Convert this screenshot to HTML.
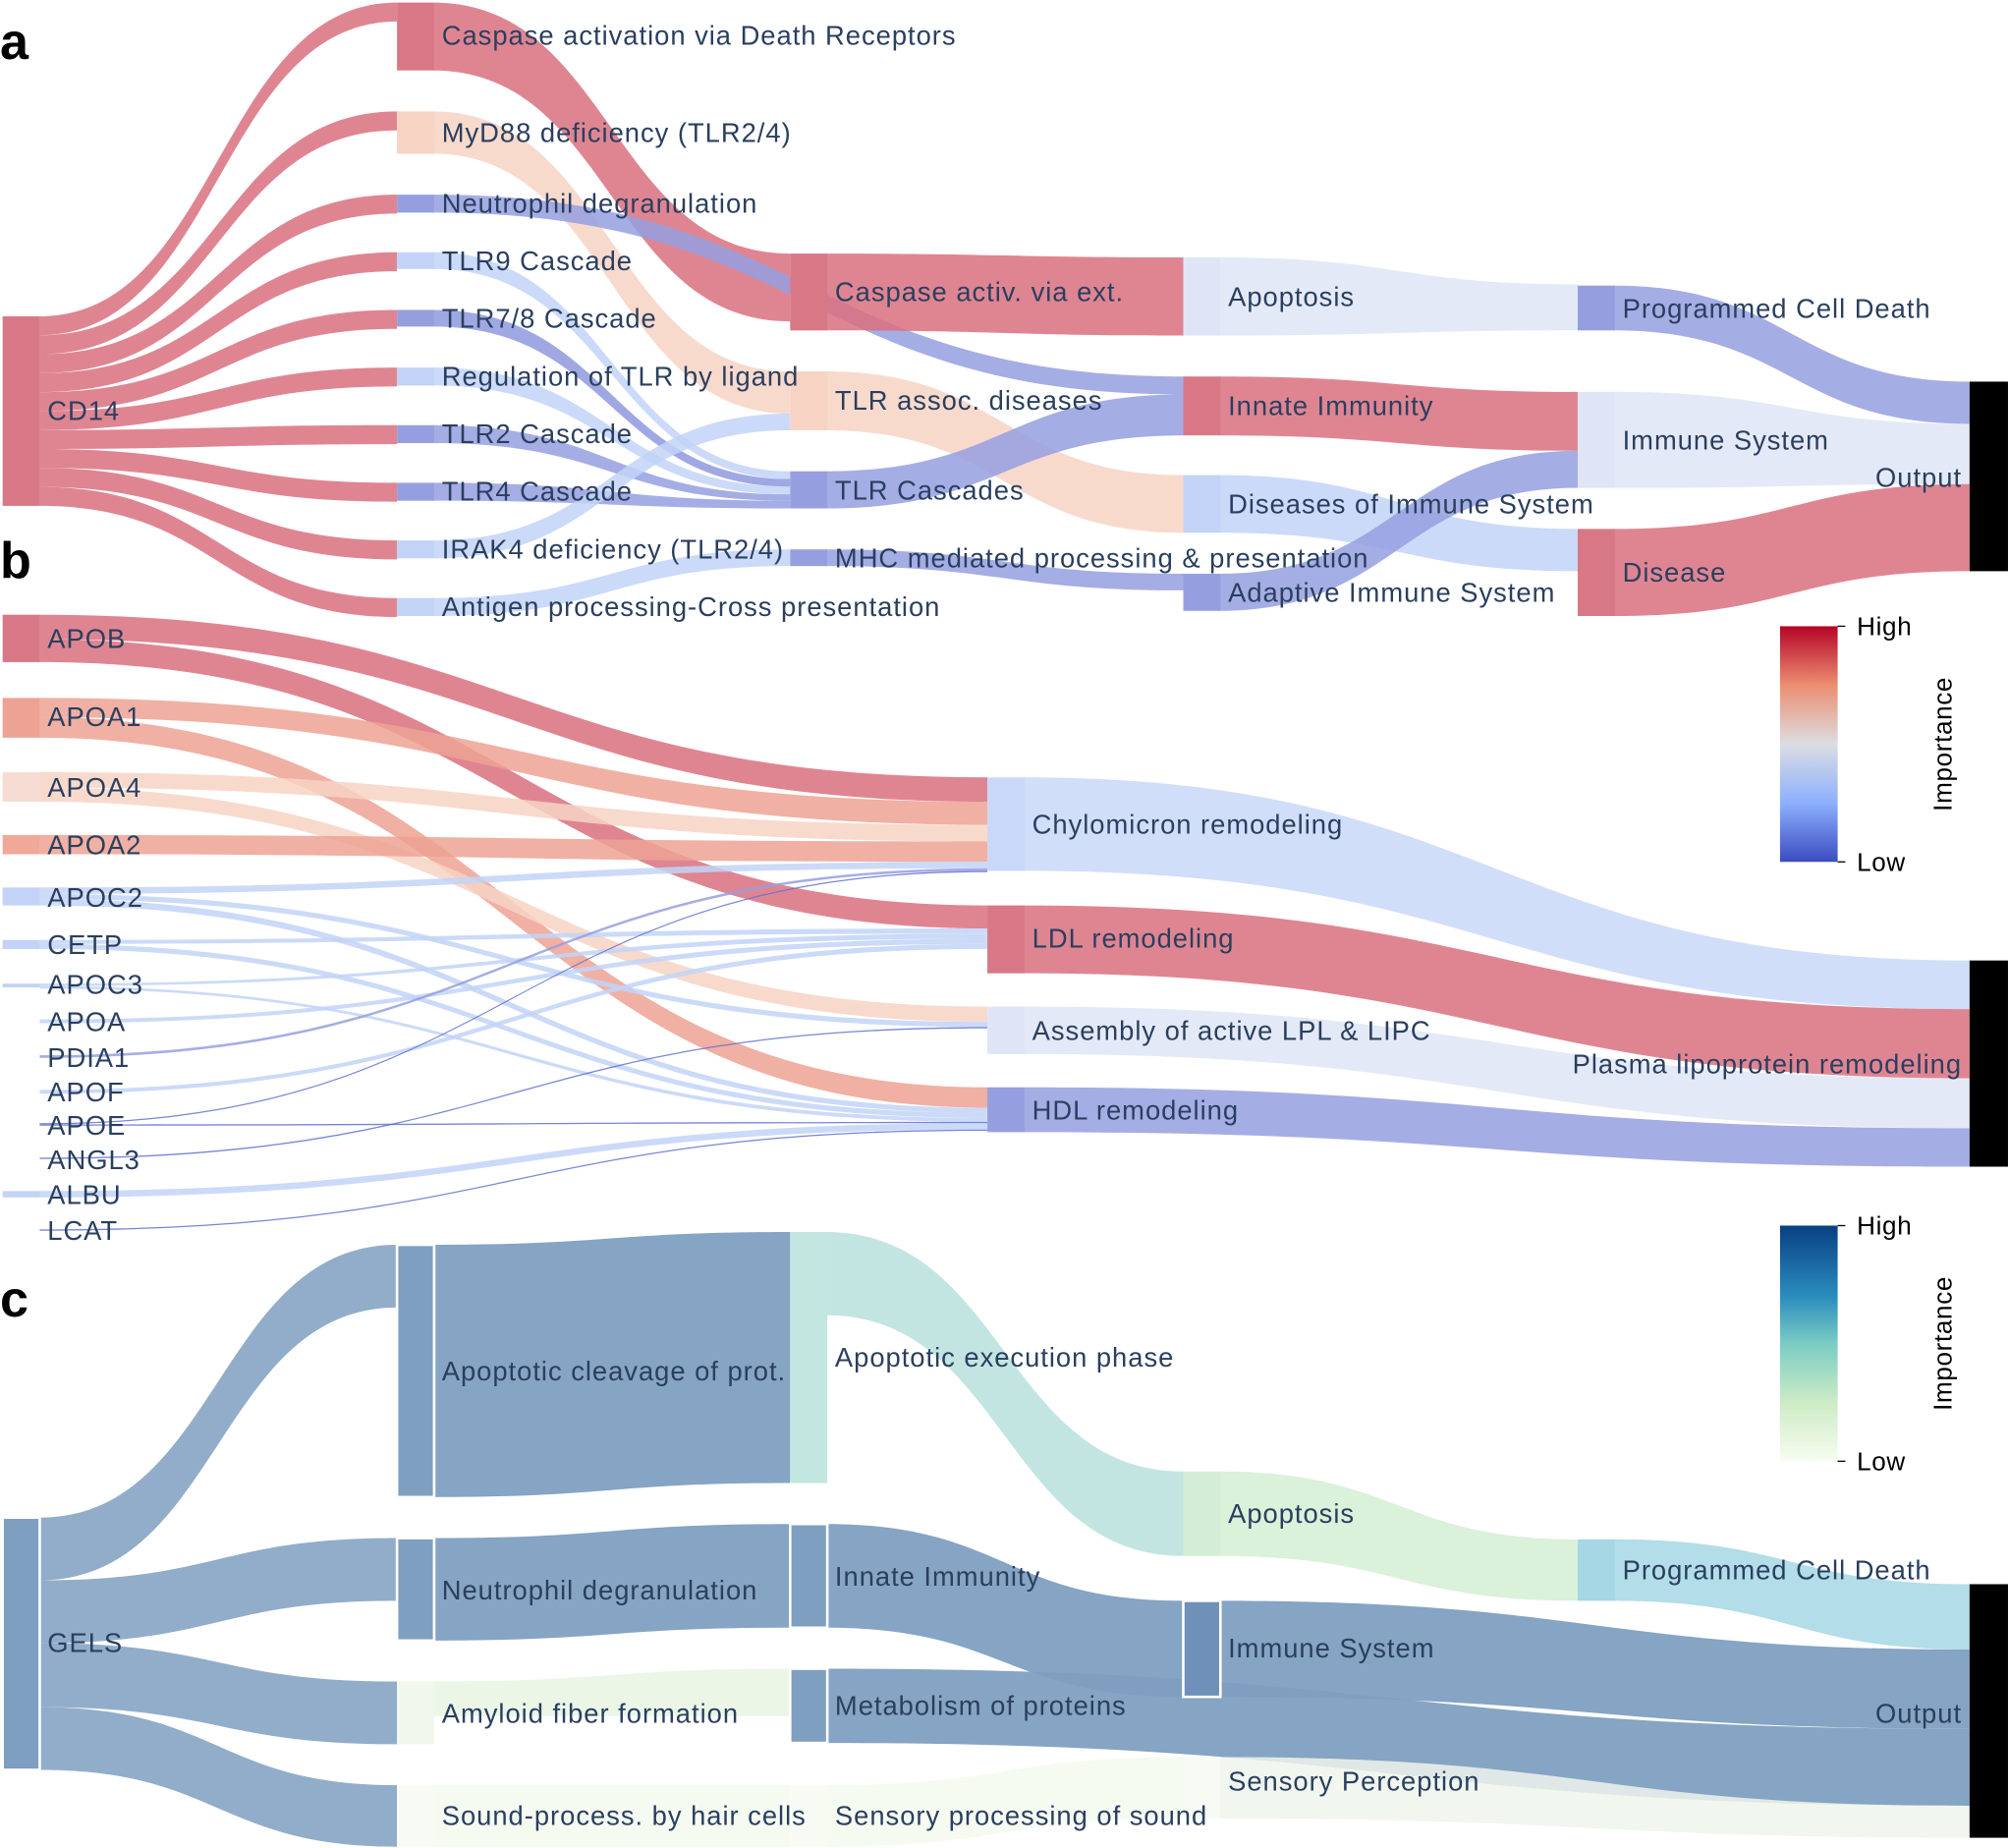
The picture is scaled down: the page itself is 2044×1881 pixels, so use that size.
<!DOCTYPE html>
<html><head><meta charset="utf-8">
<style>
html,body{margin:0;padding:0;background:#fff;}
svg{display:block;}
text{font-family:"Liberation Sans","DejaVu Sans",sans-serif;fill:#2a3f5f;font-size:21px;letter-spacing:0.75px;}
.p{font-weight:bold;fill:#000;font-size:40px;letter-spacing:0;}
.t{fill:#000;font-size:20px;letter-spacing:0.5px;}
</style></head>
<body>
<svg id="s" width="2044" height="1881" viewBox="0 0 1568 1443" xmlns="http://www.w3.org/2000/svg">
<defs>
<linearGradient id="g1" x1="0" y1="0" x2="0" y2="1">
<stop offset="0" stop-color="#b40426"/><stop offset="0.25" stop-color="#ec8e71"/><stop offset="0.5" stop-color="#dcdde1"/><stop offset="0.75" stop-color="#8db0fe"/><stop offset="1" stop-color="#3b4cc0"/></linearGradient>
<linearGradient id="g2" x1="0" y1="0" x2="0" y2="1">
<stop offset="0" stop-color="#084081"/><stop offset="0.3" stop-color="#2b8cbe"/><stop offset="0.5" stop-color="#7bccc4"/><stop offset="0.75" stop-color="#ccebc5"/><stop offset="1" stop-color="#f7fcf0"/></linearGradient>
</defs>
<g id="links"></g>
<g id="nodes"></g>
<g id="labels">
<text class="p" x="0" y="46">a</text>
<text class="p" x="0" y="451">b</text>
<text class="p" x="0" y="1028">c</text>
<text x="37" y="328">CD14</text>
<text x="345" y="35">Caspase activation via Death Receptors</text>
<text x="345" y="111">MyD88 deficiency (TLR2/4)</text>
<text x="345" y="166">Neutrophil degranulation</text>
<text x="345" y="211">TLR9 Cascade</text>
<text x="345" y="256">TLR7/8 Cascade</text>
<text x="345" y="301">Regulation of TLR by ligand</text>
<text x="345" y="346">TLR2 Cascade</text>
<text x="345" y="391">TLR4 Cascade</text>
<text x="345" y="436">IRAK4 deficiency (TLR2/4)</text>
<text x="345" y="481">Antigen processing-Cross presentation</text>
<text x="652" y="235">Caspase activ. via ext.</text>
<text x="652" y="320">TLR assoc. diseases</text>
<text x="652" y="390">TLR Cascades</text>
<text x="652" y="443">MHC mediated processing &amp; presentation</text>
<text x="959" y="239">Apoptosis</text>
<text x="959" y="324">Innate Immunity</text>
<text x="959" y="401">Diseases of Immune System</text>
<text x="959" y="470">Adaptive Immune System</text>
<text x="1267" y="248">Programmed Cell Death</text>
<text x="1267" y="351">Immune System</text>
<text x="1267" y="454">Disease</text>
<text x="1532" y="380" text-anchor="end">Output</text>
<text x="37" y="506">APOB</text>
<text x="37" y="567">APOA1</text>
<text x="37" y="622">APOA4</text>
<text x="37" y="667">APOA2</text>
<text x="37" y="708">APOC2</text>
<text x="37" y="745">CETP</text>
<text x="37" y="776">APOC3</text>
<text x="37" y="805">APOA</text>
<text x="37" y="833">PDIA1</text>
<text x="37" y="860">APOF</text>
<text x="37" y="886">APOE</text>
<text x="37" y="913">ANGL3</text>
<text x="37" y="940">ALBU</text>
<text x="37" y="968">LCAT</text>
<text x="806" y="651">Chylomicron remodeling</text>
<text x="806" y="740">LDL remodeling</text>
<text x="806" y="812">Assembly of active LPL &amp; LIPC</text>
<text x="806" y="874">HDL remodeling</text>
<text x="1532" y="838" text-anchor="end">Plasma lipoprotein remodeling</text>
<text x="37" y="1290">GELS</text>
<text x="345" y="1078">Apoptotic cleavage of prot.</text>
<text x="345" y="1249">Neutrophil degranulation</text>
<text x="345" y="1345">Amyloid fiber formation</text>
<text x="345" y="1425">Sound-process. by hair cells</text>
<text x="652" y="1067">Apoptotic execution phase</text>
<text x="652" y="1238">Innate Immunity</text>
<text x="652" y="1339">Metabolism of proteins</text>
<text x="652" y="1425">Sensory processing of sound</text>
<text x="959" y="1189">Apoptosis</text>
<text x="959" y="1294">Immune System</text>
<text x="959" y="1398">Sensory Perception</text>
<text x="1267" y="1233">Programmed Cell Death</text>
<text x="1532" y="1345" text-anchor="end">Output</text>
<rect x="1390" y="489" width="45" height="184" fill="url(#g1)"/>
<line x1="1435" y1="489" x2="1441" y2="489" stroke="#000"/>
<line x1="1435" y1="673" x2="1441" y2="673" stroke="#000"/>
<text class="t" x="1450" y="496">High</text>
<text class="t" x="1450" y="680">Low</text>
<text class="t" x="1524" y="581" text-anchor="middle" transform="rotate(-90 1524 581)">Importance</text>
<rect x="1390" y="957" width="45" height="184" fill="url(#g2)"/>
<line x1="1435" y1="957" x2="1441" y2="957" stroke="#000"/>
<line x1="1435" y1="1141" x2="1441" y2="1141" stroke="#000"/>
<text class="t" x="1450" y="964">High</text>
<text class="t" x="1450" y="1148">Low</text>
<text class="t" x="1524" y="1049" text-anchor="middle" transform="rotate(-90 1524 1049)">Importance</text>
</g>
</svg>
<script>
var NS="http://www.w3.org/2000/svg";
var LG=document.getElementById("links"),NG=document.getElementById("nodes");
function L(x0,a0,b0,x1,a1,b1,c,o){var m=(x0+x1)/2;var p=document.createElementNS(NS,"path");
p.setAttribute("d","M"+x0+","+a0+"C"+m+","+a0+" "+m+","+a1+" "+x1+","+a1+"L"+x1+","+b1+"C"+m+","+b1+" "+m+","+b0+" "+x0+","+b0+"Z");
p.setAttribute("fill",c);p.setAttribute("fill-opacity",o||0.85);LG.appendChild(p);}
function N(x,y0,y1,c,st){var r=document.createElementNS(NS,"rect");r.setAttribute("x",x);r.setAttribute("y",y0);r.setAttribute("width",x>=1530?30:29);r.setAttribute("height",y1-y0);r.setAttribute("fill",c);if(st){r.setAttribute("stroke","#fff");r.setAttribute("stroke-width","2");}NG.appendChild(r);}
var R="#d9707f",Rn="#d87886",P="#f7d3c4",B="#959fe0",LB="#c2d3f7",VL="#dfe5f6",SAL="#eda293";
var c1=[2,87,152,197,242,287,332,377,422,467];
for(var i=0;i<10;i++){L(31,247+i*14.8,247+(i+1)*14.8,310,c1[i],c1[i]+14.8,R);}
L(338,2,55,617,198,251,R);
L(338,87,120,617,290,323,P);
L(338,152,166,924,294,308,B);
L(338,197,210,617,368,374,LB);
L(338,242,255,617,374,380,B,0.9);
L(338,287,301,617,380,386,LB);
L(338,332,346,617,386,391,B);
L(338,377,391,617,391,397,B);
L(338,422,436,617,323,336,LB);
L(338,467,481,617,429,442,LB);
L(645,198,258,924,201,262,R);
L(645,290,336,924,371,416,P);
L(645,368,397,924,308,340,B);
L(645,429,442,924,448,461,B);
L(952,201,262,1232,222,258,VL);
L(952,294,340,1232,306,352,R);
L(952,371,416,1232,413,446,LB);
L(952,448,477,1232,352,381,B);
L(1260,223,258,1538,298,331,B);
L(1260,306,381,1538,331,378,VL);
L(1260,413,481,1538,378,446,R);
N(2,247,395,Rn);
N(310,2,55,Rn);N(310,87,120,P);N(310,152,166,B);N(310,197,210,LB);N(310,242,255,B);N(310,287,301,LB);N(310,332,346,B);N(310,377,391,B);N(310,422,436,LB);N(310,467,481,LB);
N(617,198,258,Rn);N(617,290,336,P);N(617,368,397,B);N(617,429,442,B);
N(924,201,262,VL);N(924,294,340,Rn);N(924,371,416,LB);N(924,448,477,B);
N(1232,223,258,B);N(1232,306,381,VL);N(1232,413,481,Rn);
N(1538,298,446,"#000");
L(31,480,499,771,607,626,R);
L(31,499,517,771,707,725,R);
L(31,545,560,771,626,644,SAL);
L(31,560,576,771,849,865,SAL);
L(31,603,615,771,644,657,P);
L(31,615,626,771,786,798,P);
L(31,652,667,771,657,673,SAL);
L(31,693,698,771,673,678,LB);
L(31,698,702,771,798,802,LB);
L(31,702,707,771,865,869,LB);
L(31,734,737,771,725,729,LB);
L(31,737,741,771,869,873,LB);
L(31,768,770,771,729,733,LB);
L(31,770,772,771,873,876,LB);
L(31,796,799,771,733,737,LB);
L(31,824,826,771,678,680,B);
L(31,851,854,771,737,741,LB);
L(31,877,878,771,680,681,"#6070d0");
L(31,878,879,771,876,877,"#6070d0");
L(31,904,905,771,802,803,"#6070d0");
L(31,930,935,771,877,882,LB);
L(31,960,961,771,882,883,"#6070d0");
L(799,607,680,1538,750,788,"#c9d8f8");
L(799,707,760,1538,788,842,R);
L(799,786,823,1538,842,881,VL);
L(799,849,884,1538,881,911,B);
N(2,480,517,Rn);N(2,545,576,SAL);N(2,603,626,"#f6dcd3");N(2,652,667,"#f0a898");N(2,693,707,LB);N(2,734,741,LB);N(2,768,771,LB);N(2,930,935,LB);
N(771,607,680,"#c9d8f8");N(771,707,760,Rn);N(771,786,823,VL);N(771,849,884,B);
N(1538,750,911,"#000");
var S="#7f9fc0";
L(31,1185,1234,310,972,1021,S);
L(31,1234,1283,310,1201,1250,S);
L(31,1283,1333,310,1313,1362,S);
L(31,1333,1382,310,1394,1442,S);
L(338,972,1169,617,962,1158,S,0.95);
L(338,1201,1281,617,1190,1271,S,0.95);
L(338,1313,1340,617,1303,1340,"#e8f4e3");
L(338,1394,1442,617,1394,1442,"#f5faf0");
L(645,962,1027,924,1149,1215,"#b8e0dd");
L(645,1190,1271,924,1250,1325,S,0.95);
L(645,1394,1442,924,1372,1420,"#f5faf0");
L(952,1149,1215,1232,1202,1250,"#d3eed4");
L(1260,1202,1250,1538,1237,1288,"#a6d7e4");
L(952,1250,1325,1538,1288,1350,S,0.95);
L(645,1303,1361,1538,1350,1410,S,0.95);
L(952,1372,1420,1538,1410,1435,"#eef4ec");
N(2,1185,1382,S,1);
N(310,972,1169,S,1);N(310,1201,1281,S,1);N(310,1313,1362,"#f0f7ec");N(310,1394,1442,"#f7fbf3");
N(617,962,1158,"#c2e6e0");N(617,1190,1271,S,1);N(617,1303,1361,S,1);N(617,1394,1442,"#f7fbf3");
N(924,1149,1215,"#d3eed4");N(924,1250,1325,"#6f90b8",1);N(924,1372,1420,"#f7fbf3");
N(1232,1202,1250,"#a6d7e4");
N(1538,1237,1435,"#000");
</script>
</body></html>
